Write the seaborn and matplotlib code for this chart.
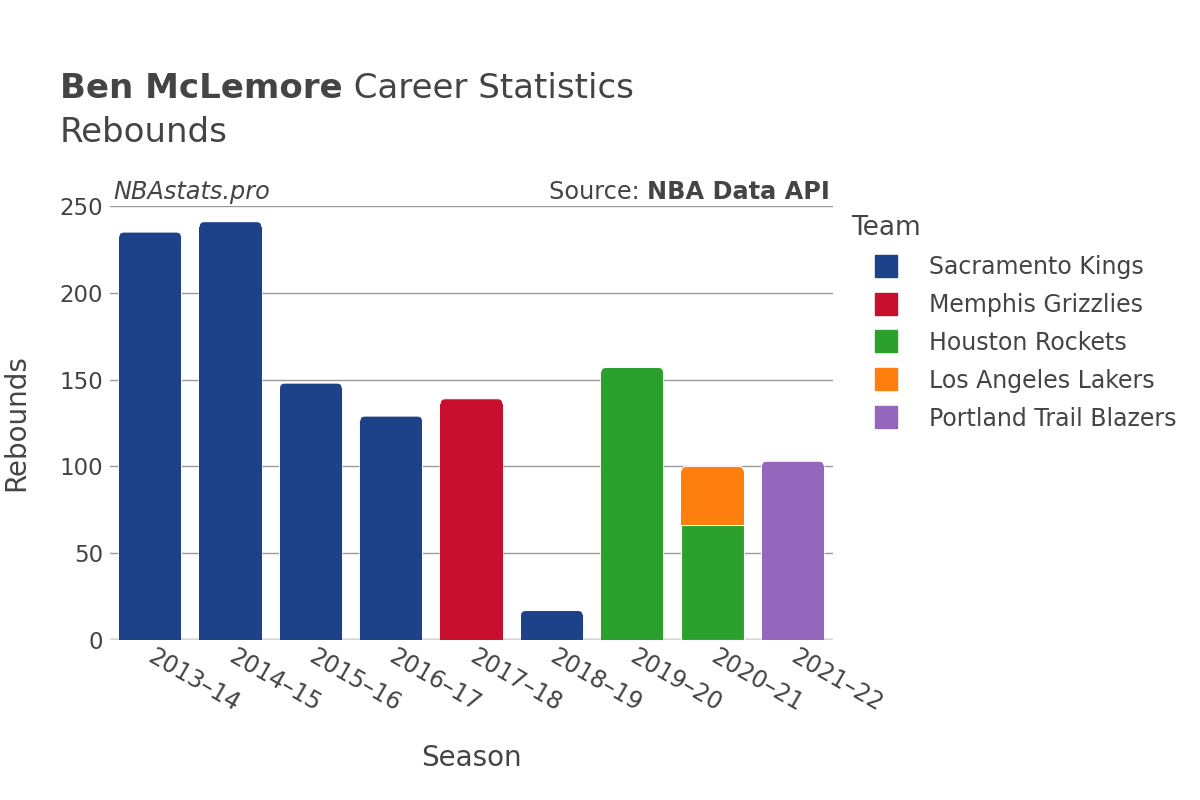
import matplotlib.pyplot as plt
import seaborn as sns
import pandas as pd
from matplotlib.lines import Line2D
from matplotlib.patches import FancyBboxPatch

# ---- data ----
seasons = ["2013–14", "2014–15", "2015–16", "2016–17", "2017–18",
           "2018–19", "2019–20", "2020–21", "2021–22"]
teams = ["Sacramento Kings", "Memphis Grizzlies", "Houston Rockets",
         "Los Angeles Lakers", "Portland Trail Blazers"]
team_colors = ["#1d428a", "#c8102e", "#2ca02c", "#ff7f0e", "#9467bd"]

row_seasons = ["2013–14", "2014–15", "2015–16", "2016–17", "2017–18",
               "2018–19", "2019–20", "2020–21", "2020–21", "2021–22"]
row_teams = ["Sacramento Kings", "Sacramento Kings", "Sacramento Kings",
             "Sacramento Kings", "Memphis Grizzlies", "Sacramento Kings",
             "Houston Rockets", "Houston Rockets", "Los Angeles Lakers",
             "Portland Trail Blazers"]
rebounds = [235, 241, 148, 129, 139, 17, 157, 66, 34, 103]

df = pd.DataFrame({"season": row_seasons, "team": row_teams, "reb": rebounds})
# stacked segments: bottom = running total within the season
df["bottom"] = df.groupby("season")["reb"].cumsum() - df["reb"]
totals = df.groupby("season")["reb"].sum().reindex(seasons).to_numpy()

text_col = "#444444"
sns.set_style("white")
plt.rcParams["font.family"] = ["DejaVu Sans"]
plt.rcParams["text.color"] = text_col
plt.rcParams["axes.labelcolor"] = text_col
plt.rcParams["xtick.color"] = text_col
plt.rcParams["ytick.color"] = text_col

fig = plt.figure(figsize=(12, 8), dpi=100)
ax = fig.add_axes([110 / 1200, 0.2, (833 - 110) / 1200, (640 - 206) / 800])

for team, color in zip(teams, team_colors):
    sub = df[df["team"] == team]
    sns.barplot(data=sub, x="season", y="reb", order=seasons, color=color,
                saturation=1, width=0.78, errorbar=None,
                bottom=sub["bottom"].to_numpy(),
                edgecolor="white", linewidth=0.8, ax=ax)

ax.set_ylim(0, 250)
ax.set_xlim(-0.5, len(seasons) - 0.5)

# round the top corners of the top segment of each stack (~5 px radius)
rx = 5 / 80.3
ry = 5 / (434 / 250)
for p in list(ax.patches):
    x, y, w, h = p.get_x(), p.get_y(), p.get_width(), p.get_height()
    i = int(round(x + w / 2))
    if abs(y + h - totals[i]) > 1e-6:
        continue
    top = FancyBboxPatch((x, y), w, h,
                         boxstyle=f"round,pad=0,rounding_size={rx}",
                         mutation_aspect=ry / rx, facecolor=p.get_facecolor(),
                         edgecolor="white", linewidth=0.8, zorder=p.get_zorder())
    ax.add_patch(top)
    p.set_height(h - ry)
    p.set_linewidth(0)
    p.set_zorder(p.get_zorder() + 0.01)

ax.set_yticks([0, 50, 100, 150, 200, 250])
ax.yaxis.grid(True, color="#9a9a9a", linewidth=1)
ax.set_axisbelow(True)
ax.axhline(0, color="#e6e6e6", linewidth=3, zorder=0.5)
sns.despine(ax=ax, left=True, bottom=True)

ax.tick_params(axis="both", length=0, labelsize=16.5)
ax.tick_params(axis="x", labelsize=17)
ax.tick_params(axis="y", pad=5)
ax.tick_params(axis="x", pad=11)
for lbl in ax.get_xticklabels():
    lbl.set_rotation(-30)
    lbl.set_ha("left")
    lbl.set_va("center")
    lbl.set_rotation_mode("anchor")

ax.set_xlabel("Season", fontsize=20, labelpad=20)
ax.set_ylabel("Rebounds", fontsize=20, labelpad=21)

# ---- titles & annotations ----
fig.canvas.draw()
renderer = fig.canvas.get_renderer()
inv = fig.transFigure.inverted()

t1 = fig.text(60 / 1200, 1 - 88 / 800, "Ben McLemore", fontsize=24.5,
              fontweight="bold", va="center", ha="left")
bb = t1.get_window_extent(renderer)
fig.text(inv.transform((bb.x1, 0))[0], 1 - 88 / 800, " Career Statistics",
         fontsize=24.5, va="center", ha="left")
fig.text(60 / 1200, 1 - 132 / 800, "Rebounds", fontsize=24.5, va="center", ha="left")

ax.text(0.004, 1.004, "NBAstats.pro", transform=ax.transAxes, fontsize=17.3,
        fontstyle="italic", ha="left", va="bottom")
s2 = ax.text(0.996, 1.004, "NBA Data API", transform=ax.transAxes, fontsize=17.3,
             fontweight="bold", ha="right", va="bottom")
bb2 = s2.get_window_extent(renderer)
x_left = ax.transAxes.inverted().transform((bb2.x0, 0))[0]
ax.text(x_left, 1.004, "Source: ", transform=ax.transAxes, fontsize=17.3,
        ha="right", va="bottom")

# ---- legend ----
handles = [Line2D([], [], marker="s", linestyle="", markersize=16.5,
                  markerfacecolor=c, markeredgecolor=c) for c in team_colors]
leg = fig.legend(handles, teams, title="Team", loc="upper left",
                 bbox_to_anchor=(841 / 1200, 1 - 205 / 800), frameon=False,
                 fontsize=17, title_fontsize=19, alignment="left",
                 handlelength=3, handletextpad=0.3, labelspacing=0.59,
                 borderaxespad=0, borderpad=0.42)

fig.savefig("out.png", dpi=100)
